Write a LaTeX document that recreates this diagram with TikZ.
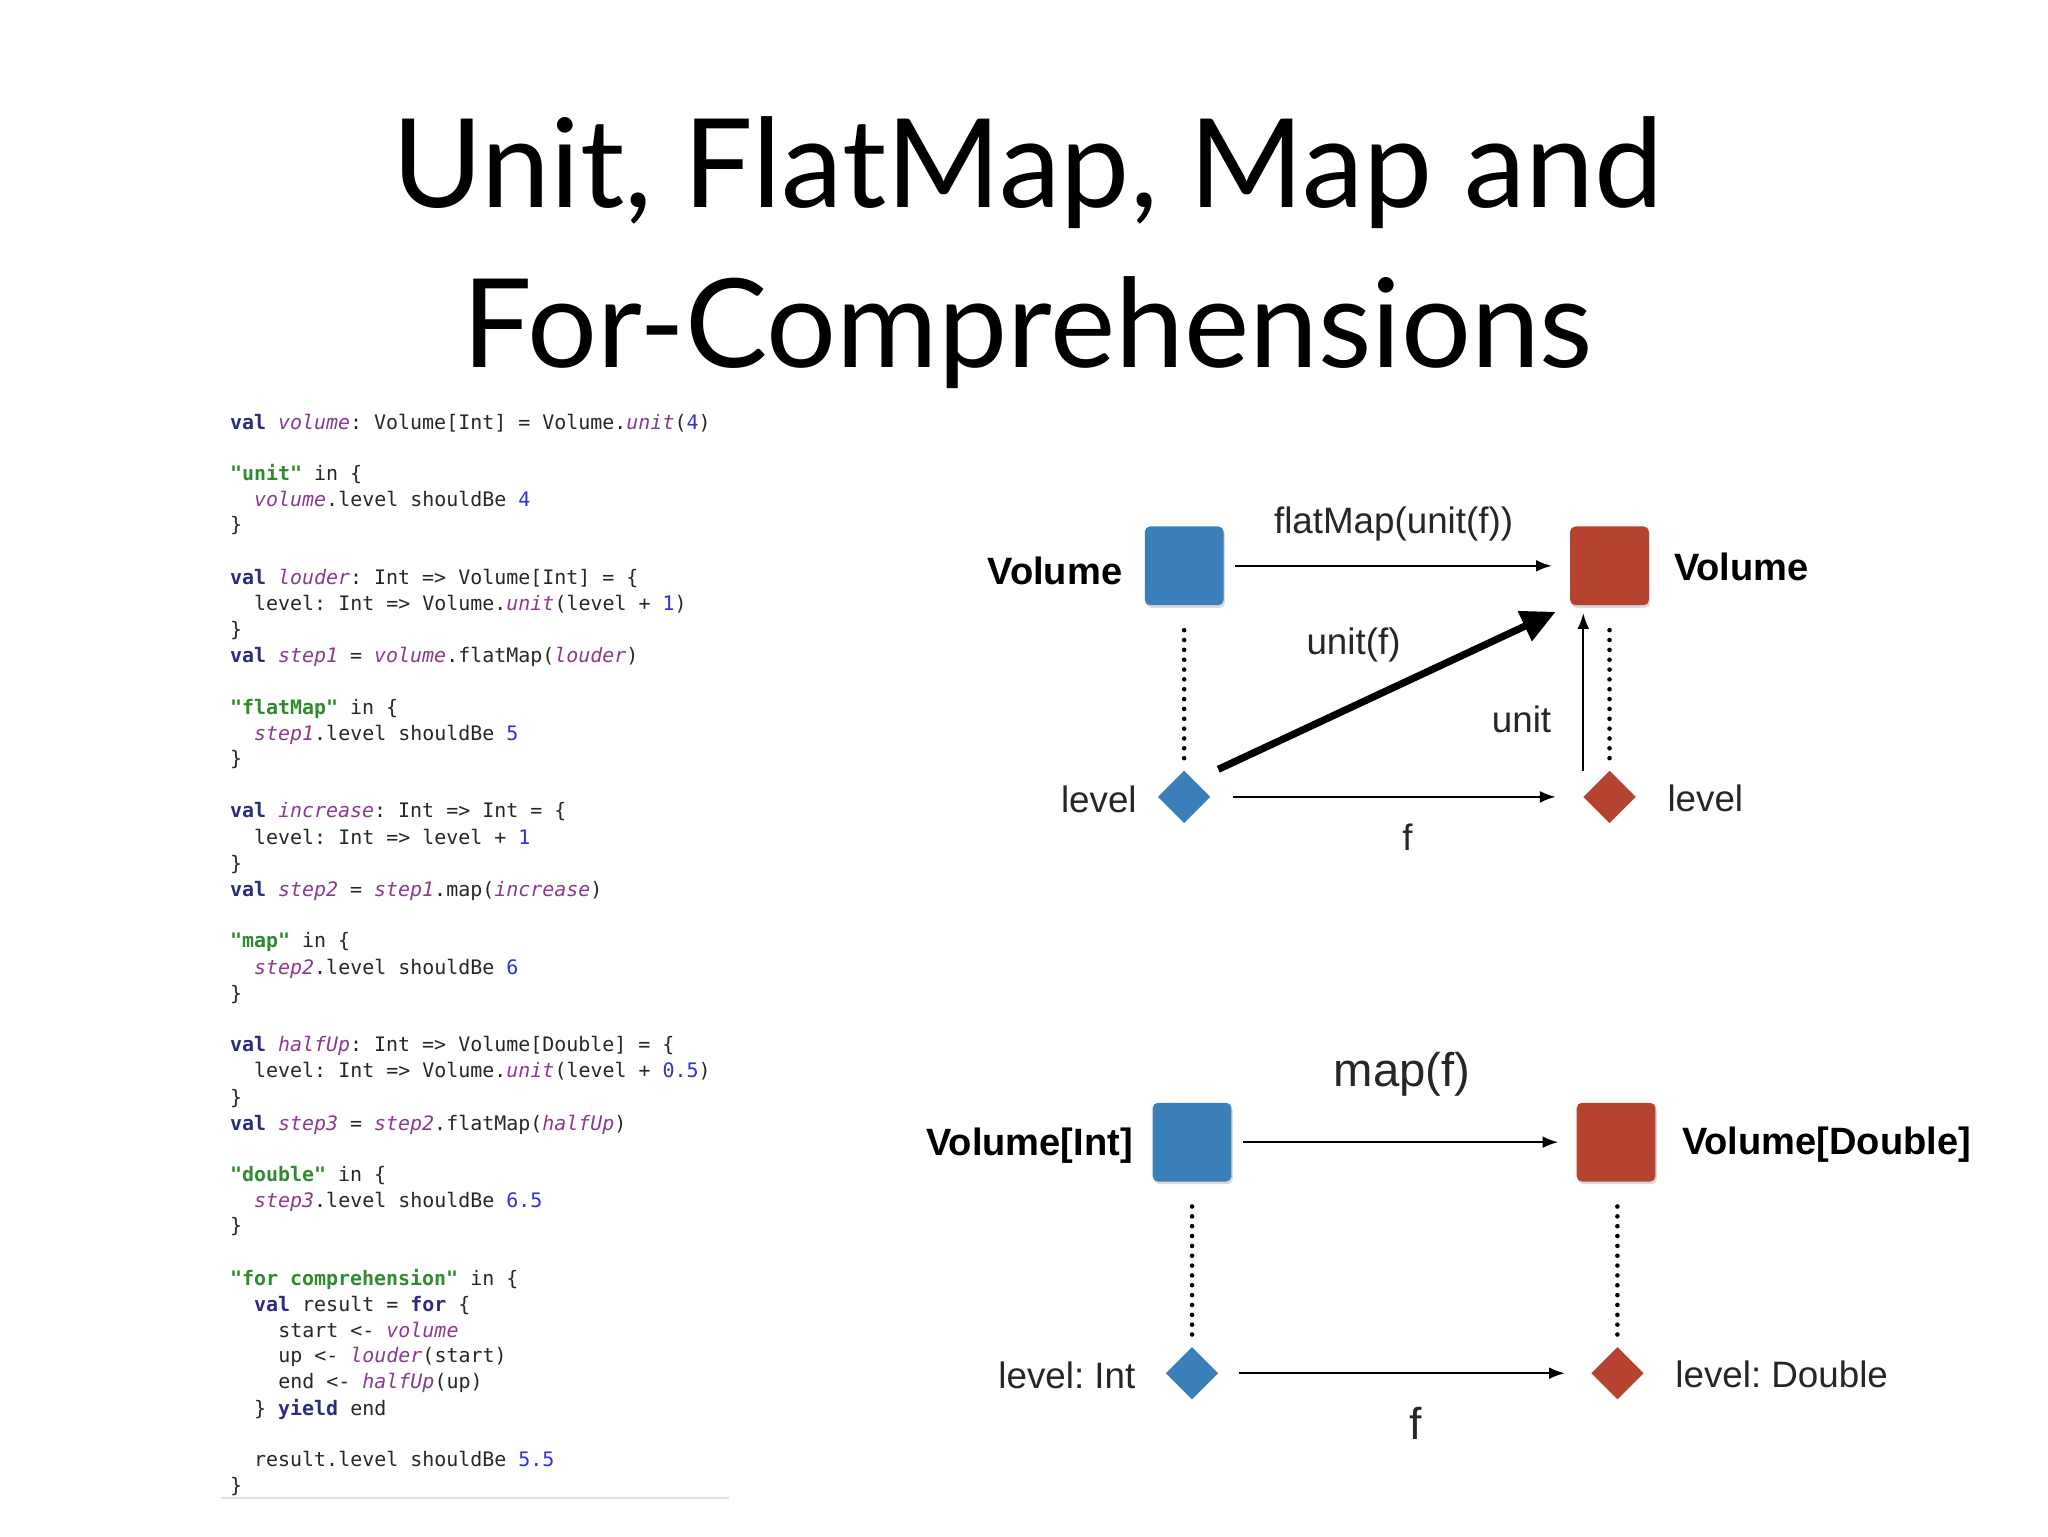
\documentclass[tikz,border=0pt]{standalone}
\usepackage{fontspec}
\setmainfont{Liberation Sans}
\newfontfamily\titlefont{Lato}
\newfontfamily\codefont{DejaVu Sans Mono}
\usetikzlibrary{arrows.meta,shapes.geometric,shadows}
\definecolor{kwc}{HTML}{2B2B80}
\definecolor{ivc}{HTML}{8A3A8E}
\definecolor{stc}{HTML}{2E8B2E}
\definecolor{nuc}{HTML}{3030D8}
\definecolor{boxblue}{HTML}{3A7FB8}
\definecolor{boxred}{HTML}{B5432F}
\newcommand\kw[1]{\textcolor{kwc}{\bfseries #1}}
\newcommand\iv[1]{\textcolor{ivc}{\itshape #1}}
\newcommand\st[1]{\textcolor{stc}{\bfseries #1}}
\newcommand\numc[1]{\textcolor{nuc}{#1}}
\frenchspacing
\begin{document}
\begin{tikzpicture}[x=1pt,y=-1pt,
  code/.style={anchor=base west,inner sep=0pt,font=\codefont\fontsize{15.2}{16}\selectfont,text=black!85},
  sq/.style={rounded corners=4pt,minimum size=60pt,inner sep=0pt,drop shadow={opacity=0.3,shadow xshift=1pt,shadow yshift=-2pt}},
  dm/.style={diamond,minimum size=40pt,inner sep=0pt},
  lab/.style={font=\fontsize{28}{30}\selectfont,text=black!85,inner sep=0pt},
  blab/.style={font=\bfseries\fontsize{29}{31}\selectfont,inner sep=0pt},
  arr/.style={-{Latex[length=12pt,width=9pt]},line width=1.6pt},
  dots/.style={line width=3.5pt,line cap=round,dash pattern=on 0pt off 7.5pt}]
\useasboundingbox (0,0) rectangle (1560,1170);
% title
\node[font=\titlefont\fontsize{94}{100}\selectfont,anchor=base] (t1) at (783,158) {Unit, FlatMap, Map and};
\node[font=\titlefont\fontsize{94}{100}\selectfont,anchor=base] (t2) at (783,280) {For-Comprehensions};
% code
\node[code] (c1) at (175,327) {\kw{val} \iv{volume}: Volume[Int] = Volume.\iv{unit}(\numc{4})};
\node[code] (c2) at (175,366) {\st{"unit"} in \{};
\node[code] (c3) at (193.4,386) {\iv{volume}.level shouldBe \numc{4}};
\node[code] (c4) at (175,405) {\}};
\node[code] (c5) at (175,445) {\kw{val} \iv{louder}: Int => Volume[Int] = \{};
\node[code] (c6) at (193.4,465) {level: Int => Volume.\iv{unit}(level + \numc{1})};
\node[code] (c7) at (175,485) {\}};
\node[code] (c8) at (175,505) {\kw{val} \iv{step1} = \iv{volume}.flatMap(\iv{louder})};
\node[code] (c9) at (175,544) {\st{"flatMap"} in \{};
\node[code] (c10) at (193.4,564) {\iv{step1}.level shouldBe \numc{5}};
\node[code] (c11) at (175,583) {\}};
\node[code] (c12) at (175,623) {\kw{val} \iv{increase}: Int => Int = \{};
\node[code] (c13) at (193.4,643) {level: Int => level + \numc{1}};
\node[code] (c14) at (175,663) {\}};
\node[code] (c15) at (175,683) {\kw{val} \iv{step2} = \iv{step1}.map(\iv{increase})};
\node[code] (c16) at (175,722) {\st{"map"} in \{};
\node[code] (c17) at (193.4,742) {\iv{step2}.level shouldBe \numc{6}};
\node[code] (c18) at (175,762) {\}};
\node[code] (c19) at (175,801) {\kw{val} \iv{halfUp}: Int => Volume[Double] = \{};
\node[code] (c20) at (193.4,821) {level: Int => Volume.\iv{unit}(level + \numc{0.5})};
\node[code] (c21) at (175,841) {\}};
\node[code] (c22) at (175,861) {\kw{val} \iv{step3} = \iv{step2}.flatMap(\iv{halfUp})};
\node[code] (c23) at (175,900) {\st{"double"} in \{};
\node[code] (c24) at (193.4,920) {\iv{step3}.level shouldBe \numc{6.5}};
\node[code] (c25) at (175,939) {\}};
\node[code] (c26) at (175,979) {\st{"for comprehension"} in \{};
\node[code] (c27) at (193.4,999) {\kw{val} result = \kw{for} \{};
\node[code] (c28) at (211.8,1019) {start <- \iv{volume}};
\node[code] (c29) at (211.8,1038) {up <- \iv{louder}(start)};
\node[code] (c30) at (211.8,1058) {end <- \iv{halfUp}(up)};
\node[code] (c31) at (193.4,1078) {\} \kw{yield} end};
\node[code] (c32) at (193.4,1117) {result.level shouldBe \numc{5.5}};
\node[code] (c33) at (175,1137) {\}};
\coordinate (gl1) at (168,1141); \coordinate (gl2) at (555,1141);
\draw[black!12,line width=1.5pt] (gl1) -- (gl2);
% top diagram
\node[sq,fill=boxblue] (A) at (902,431) {};
\node[sq,fill=boxred] (B) at (1226,431) {};
\node[dm,fill=boxblue] (a) at (902,607) {};
\node[dm,fill=boxred] (b) at (1226,607) {};
\node[blab,anchor=east] (lA) at (855,435) {Volume};
\node[blab,anchor=west] (lB) at (1275,432) {Volume};
\node[lab,anchor=east] (la) at (866,609) {level};
\node[lab,anchor=west] (lb) at (1270,608) {level};
\coordinate (A1) at (941,431); \coordinate (B1) at (1182,431);
\draw[arr] (A1) -- node[lab,above=18pt] (fm) {flatMap(unit(f))} (B1);
\coordinate (a1) at (939,607); \coordinate (b1) at (1185,607);
\draw[arr] (a1) -- (b1);
\node[lab] (f1) at (1072,638) {f};
\coordinate (d1) at (928,586); \coordinate (d2) at (1185,466);
\draw[-{Triangle[length=26pt,width=24pt]},line width=5.5pt] (d1) -- (d2);
\node[lab] (uf) at (1031,491) {unit(f)};
\coordinate (u1) at (1206,587); \coordinate (u2) at (1206,467);
\draw[arr] (u1) -- (u2);
\node[lab] (un) at (1159,548) {unit};
\coordinate (v1) at (902,480); \coordinate (v2) at (902,583);
\coordinate (v3) at (1226,480); \coordinate (v4) at (1226,583);
\draw[dots] (v1) -- (v2);
\draw[dots] (v3) -- (v4);
% bottom diagram
\node[sq,fill=boxblue] (C) at (908,870) {};
\node[sq,fill=boxred] (D) at (1231,870) {};
\node[dm,fill=boxblue] (c) at (908,1046) {};
\node[dm,fill=boxred] (d) at (1232,1046) {};
\node[blab,anchor=east] (lC) at (863,873) {Volume[Int]};
\node[blab,anchor=west] (lD) at (1281,872) {Volume[Double]};
\node[lab,anchor=east] (lc) at (865,1048) {level: Int};
\node[lab,anchor=west] (ld) at (1276,1047) {level: Double};
\coordinate (C1) at (947,870); \coordinate (D1) at (1187,870);
\draw[arr] (C1) -- (D1);
\node[lab,font=\fontsize{36}{38}\selectfont] (mf) at (1068,818) {map(f)};
\coordinate (c1b) at (944,1046); \coordinate (d1b) at (1192,1046);
\draw[arr] (c1b) -- (d1b);
\node[lab,font=\fontsize{34}{36}\selectfont] (f2) at (1078,1084) {f};
\coordinate (w1) at (908,919); \coordinate (w2) at (908,1020);
\coordinate (w3) at (1232,919); \coordinate (w4) at (1232,1020);
\draw[dots] (w1) -- (w2);
\draw[dots] (w3) -- (w4);
\end{tikzpicture}
\end{document}
